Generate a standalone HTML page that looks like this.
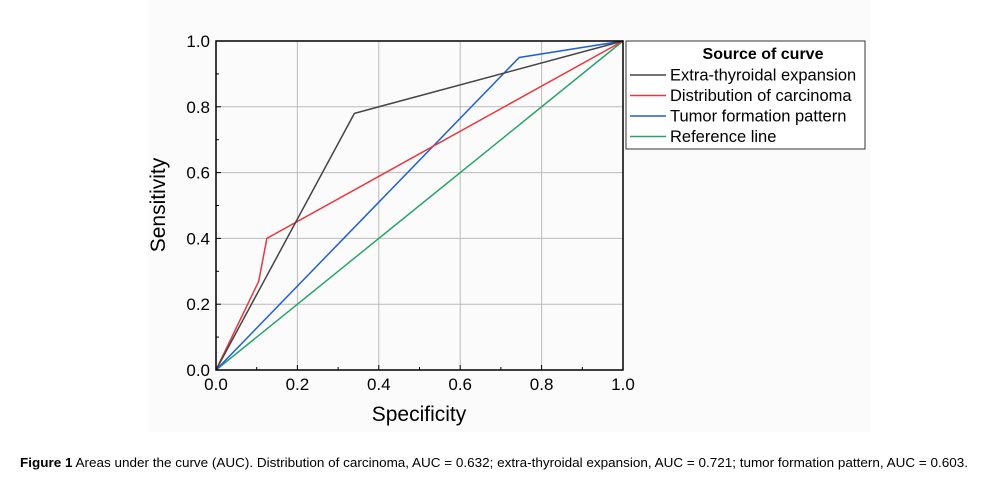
<!DOCTYPE html>
<html><head><meta charset="utf-8"><style>
body{margin:0;background:#fff;width:986px;height:485px;overflow:hidden;font-family:"Liberation Sans",sans-serif}
svg{position:absolute;left:0;top:0}
</style></head><body>
<svg width="986" height="485">
<rect x="148" y="0" width="722" height="432" fill="#fbfbfb"/>
<g id="grid"></g><g id="series"></g><g id="axes"></g>
<g>
<rect x="626" y="41" width="239" height="108" fill="#fff" stroke="#333" stroke-width="1"/>
<text x="763" y="59" font-size="16" font-weight="bold" text-anchor="middle">Source of curve</text>
<g id="legend-entries"></g>
</g>
<text x="419" y="421" font-size="21" text-anchor="middle">Specificity</text>
<text transform="translate(165,205) rotate(-90)" font-size="21" text-anchor="middle">Sensitivity</text>
<text x="20" y="467" font-size="13" textLength="948" lengthAdjust="spacingAndGlyphs"><tspan font-weight="bold">Figure 1</tspan> Areas under the curve (AUC). Distribution of carcinoma, AUC = 0.632; extra-thyroidal expansion, AUC = 0.721; tumor formation pattern, AUC = 0.603.</text>
</svg>
<script>
const ticks=[0,0.2,0.4,0.6,0.8,1.0];
const seriesNames=["Extra-thyroidal expansion","Distribution of carcinoma","Tumor formation pattern","Reference line"];
const seriesColors=["#444","#e8383d","#1f5fd6","#2aa36b"];
const blackX=[0,0.34,1],blackY=[0,0.78,1];
const redX=[0,0.105,0.125,1],redY=[0,0.27,0.40,1];
const blueX=[0,0.745,1],blueY=[0,0.95,1];
const greenX=[0,1],greenY=[0,1];
const X0=216,X1=623,Y0=370,Y1=41;
const sx=v=>X0+v*(X1-X0), sy=v=>Y0-v*(Y0-Y1);
const NS="http://www.w3.org/2000/svg";
function mk(t,a,p){const e=document.createElementNS(NS,t);for(const k in a)e.setAttribute(k,a[k]);p.appendChild(e);return e;}
const grid=document.getElementById('grid'),axes=document.getElementById('axes'),ser=document.getElementById('series');
ticks.forEach(t=>{
 let g=mk('line',{x1:sx(t),x2:sx(t),y1:Y1,y2:Y0,stroke:'#bbb'},grid);
 
 
 let h=mk('line',{x1:X0,x2:X1,y1:sy(t),y2:sy(t),stroke:'#bbb'},grid);
 
 
 let tx=mk('text',{x:sx(t),y:Y0+20,'font-size':17,'text-anchor':'middle'},axes);tx.textContent=t.toFixed(1);
 
 
 let ty=mk('text',{x:X0-6,y:sy(t)+6,'font-size':17,'text-anchor':'end'},axes);ty.textContent=t.toFixed(1);
 
 
});
for(let i=0;i<=10;i++){const t=i/10;
 mk('line',{x1:sx(t),x2:sx(t),y1:Y0,y2:Y0-(i%2?3:5),stroke:'#000'},axes);
 mk('line',{x1:X0,x2:X0+(i%2?3:5),y1:sy(t),y2:sy(t),stroke:'#000'},axes);}
let fr=mk('rect',{x:X0,y:Y1,width:X1-X0,height:Y0-Y1,fill:'none',stroke:'#000','stroke-width':1.5},axes);


const data=[[blackX,blackY],[redX,redY],[blueX,blueY],[greenX,greenY]];
const sNames=['extra-thyroidal-line','carcinoma-line','tumor-pattern-line','reference-line'];
[3,2,1,0].forEach(i=>{
 const [xs,ys]=data[i];
 const p=mk('polyline',{points:xs.map((x,j)=>sx(x)+','+sy(ys[j])).join(' '),fill:'none',stroke:seriesColors[i],'stroke-width':1.5},ser);
 
 
});
const le=document.getElementById('legend-entries');
seriesNames.forEach((n,i)=>{const y=75+i*20.5;
 mk('line',{x1:630,x2:666,y1:y,y2:y,stroke:seriesColors[i],'stroke-width':1.5},le);
 const t=mk('text',{x:670,y:y+5.5,'font-size':16.5},le);t.textContent=n;
 
 
});
</script>
</body></html>
